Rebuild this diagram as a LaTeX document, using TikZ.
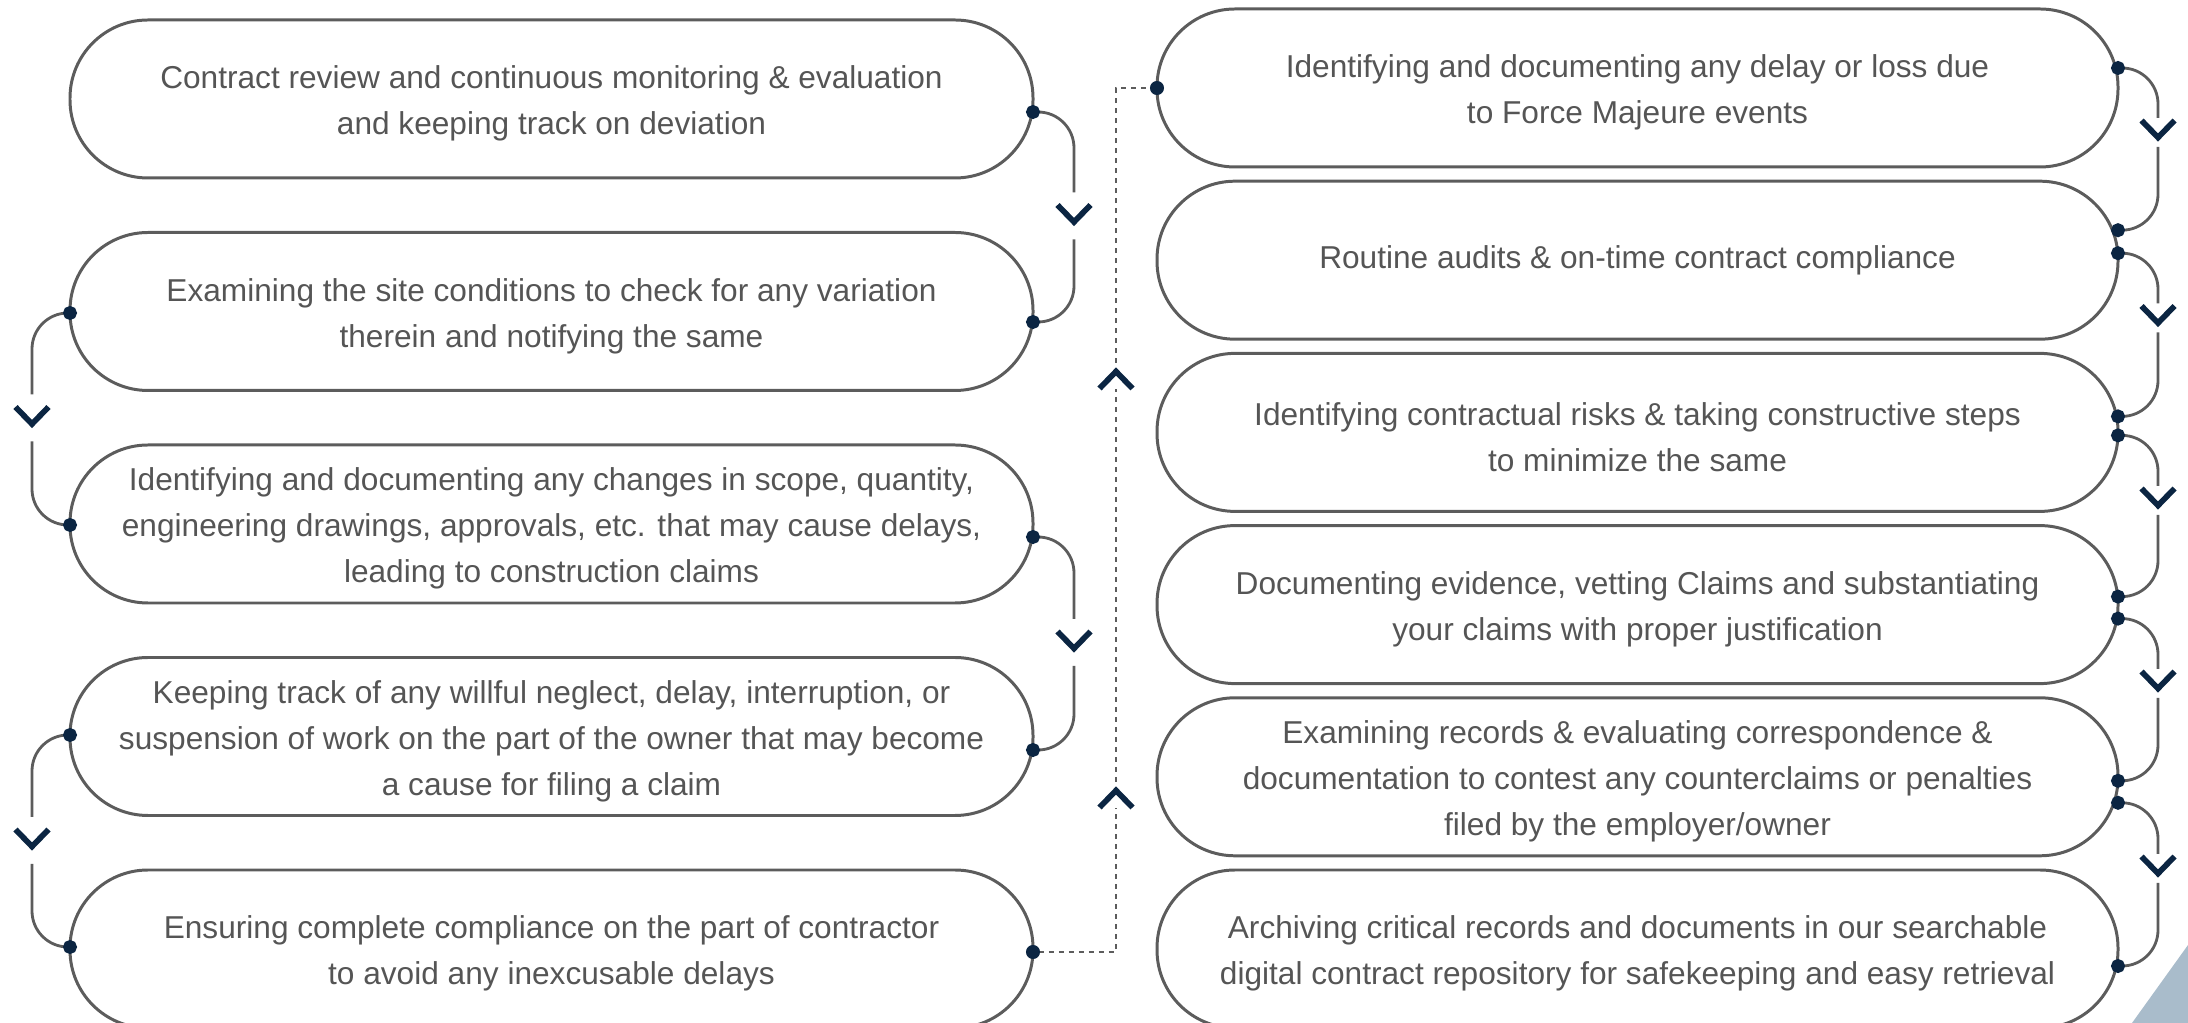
\documentclass[tikz,border=0pt]{standalone}
\usepackage{fontspec}
\setmainfont{Liberation Sans}
\usetikzlibrary{positioning,arrows.meta}

\definecolor{navy}{HTML}{0B2542}
\definecolor{boxline}{HTML}{5C5C5C}
\definecolor{txt}{HTML}{555555}
\definecolor{corner}{HTML}{A9BCCB}

\newcommand{\tup}{\rule{0pt}{9.2pt}}

\tikzset{
  stepbox/.style={draw=boxline,line width=0.85pt,rounded corners=0.78cm,outer sep=0pt,
    minimum width=9.63cm,minimum height=1.58cm,align=center,text=txt,
    font=\fontsize{9}{13.1}\selectfont},
  link/.style={draw=boxline,line width=0.8pt,rounded corners=0.36cm},
  dashlink/.style={draw=boxline,line width=0.7pt,dash pattern=on 0.05cm off 0.05cm},
  dotstart/.style={{Circle[length=0.14cm,color=navy]}-,shorten <=-0.07cm},
  dotend/.style={-{Circle[length=0.14cm,color=navy]},shorten >=-0.07cm},
  chevdown/.pic={\draw[navy,line width=0.057cm] (-0.165,0.095) -- (0,-0.075) -- (0.165,0.095);},
  chevup/.pic={\draw[navy,line width=0.057cm] (-0.165,-0.095) -- (0,0.075) -- (0.165,-0.095);}
}

\begin{document}
\begin{tikzpicture}
  \useasboundingbox (0,0) rectangle (21.88,-10.23);
  \fill[corner] (21.88,-9.45) -- (21.88,-10.23) -- (21.32,-10.23) -- cycle;

  % left column
  \node[stepbox] (l1) at (5.515,-0.99) {\tup Contract review and continuous monitoring \& evaluation\\and keeping track on deviation};
  \node[stepbox] (l2) [below=0.545cm of l1] {\tup Examining the site conditions to check for any variation\\therein and notifying the same};
  \node[stepbox] (l3) [below=0.545cm of l2] {\tup Identifying and documenting any changes in scope, quantity,\\engineering drawings, approvals, etc. that may cause delays,\\leading to construction claims};
  \node[stepbox] (l4) [below=0.545cm of l3] {\tup Keeping track of any willful neglect, delay, interruption, or\\suspension of work on the part of the owner that may become\\a cause for filing a claim};
  \node[stepbox] (l5) [below=0.545cm of l4] {\tup Ensuring complete compliance on the part of contractor\\to avoid any inexcusable delays};

  % right column
  \node[stepbox,minimum width=9.61cm] (r1) at (16.375,-0.88) {\tup Identifying and documenting any delay or loss due\\to Force Majeure events};
  \node[stepbox,minimum width=9.61cm] (r2) [below=0.142cm of r1] {Routine audits \& on-time contract compliance};
  \node[stepbox,minimum width=9.61cm] (r3) [below=0.142cm of r2] {\tup Identifying contractual risks \& taking constructive steps\\to minimize the same};
  \node[stepbox,minimum width=9.61cm] (r4) [below=0.142cm of r3] {\tup Documenting evidence, vetting Claims and substantiating\\your claims with proper justification};
  \node[stepbox,minimum width=9.61cm] (r5) [below=0.142cm of r4] {\tup Examining records \& evaluating correspondence \&\\documentation to contest any counterclaims or penalties\\filed by the employer/owner};
  \node[stepbox,minimum width=9.61cm] (r6) [below=0.142cm of r5] {\tup Archiving critical records and documents in our searchable\\digital contract repository for safekeeping and easy retrieval};

  % chevron spots
  \coordinate (a1) at (10.74,-2.145);
  \coordinate (a2) at (0.32,-4.165);
  \coordinate (a3) at (10.74,-6.41);
  \coordinate (a4) at (0.32,-8.39);
  \coordinate (u1) at (11.16,-3.79);
  \coordinate (u2) at (11.16,-7.98);
  \coordinate (b1) at (21.58,-1.30);
  \coordinate (b2) at (21.58,-3.155);
  \coordinate (b3) at (21.58,-4.98);
  \coordinate (b4) at (21.58,-6.81);
  \coordinate (b5) at (21.58,-8.66);

  % left links
  \draw[link,dotstart] ([yshift=-0.13cm]l1.east) -| ([yshift=0.22cm]a1);
  \draw[link,dotend] ([yshift=-0.25cm]a1) |- ([yshift=-0.105cm]l2.east);
  \draw[link,dotstart] ([yshift=-0.015cm]l2.west) -| ([yshift=0.22cm]a2);
  \draw[link,dotend] ([yshift=-0.25cm]a2) |- ([yshift=-0.01cm]l3.west);
  \draw[link,dotstart] ([yshift=-0.13cm]l3.east) -| ([yshift=0.22cm]a3);
  \draw[link,dotend] ([yshift=-0.25cm]a3) |- ([yshift=-0.135cm]l4.east);
  \draw[link,dotstart] ([yshift=0.015cm]l4.west) -| ([yshift=0.22cm]a4);
  \draw[link,dotend] ([yshift=-0.25cm]a4) |- ([yshift=0.02cm]l5.west);
  \foreach \c in {a1,a2,a3,a4} {
    \pic at (\c) {chevdown};
  }

  % jump to the right column
  \draw[dashlink,dotstart] ([yshift=-0.03cm]l5.east) -| ([yshift=-0.10cm]u2);
  \draw[dashlink] ([yshift=0.16cm]u2) -- ([yshift=-0.10cm]u1);
  \draw[dashlink,dotend] ([yshift=0.16cm]u1) |- (r1.west);
  \pic at (u1) {chevup};
  \pic at (u2) {chevup};

  % right links
  \foreach \a/\b/\c/\s/\t in {r1/b1/r2/0.20/0.30, r2/b2/r3/0.07/0.16, r3/b3/r4/-0.03/0.08,
      r4/b4/r5/-0.14/-0.04, r5/b5/r6/-0.26/-0.17} {
    \draw[link,dotstart] ([yshift=\s cm]\a.east) -| ([yshift=0.12cm]\b);
    \draw[link,dotend] ([yshift=-0.17cm]\b) |- ([yshift=\t cm]\c.east);
    \pic at (\b) {chevdown};
  }
\end{tikzpicture}
\end{document}
